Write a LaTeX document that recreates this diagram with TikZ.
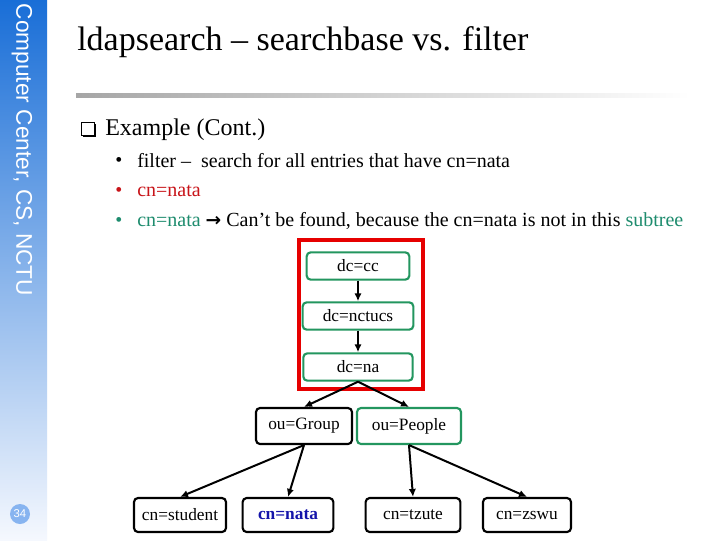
\documentclass[tikz,border=0pt]{standalone}
\usepackage{fontspec}
\setmainfont{Liberation Serif}
\newfontfamily\arialfont{Liberation Sans}
\newfontfamily\symfont{DejaVu Sans}
\usetikzlibrary{arrows.meta,shadings}
\definecolor{sideTop}{RGB}{25,110,215}
\definecolor{sideBot}{RGB}{245,248,254}
\definecolor{pagecirc}{RGB}{135,180,240}
\definecolor{boxgreen}{RGB}{35,150,95}
\definecolor{boxred}{RGB}{230,0,0}
\definecolor{txtred}{RGB}{200,20,25}
\definecolor{txtteal}{RGB}{30,140,110}
\definecolor{natablue}{RGB}{20,20,170}
\tikzset{
  entry/.style={draw, rounded corners=3pt, line width=1.6pt, inner sep=0pt,
    font=\fontsize{13}{15}\selectfont, minimum height=25.5pt},
  gentry/.style={entry, draw=boxgreen, minimum height=20.5pt},
  arr/.style={line width=1.5pt, -{Latex[length=6pt,width=5.5pt]}},
  bullettext/.style={anchor=west, inner sep=0pt, font=\fontsize{15}{17}\selectfont},
}
\begin{document}
\begin{tikzpicture}[x=0.75pt,y=-0.75pt]
\useasboundingbox (0,0) rectangle (720,540);
\fill[white] (0,0) rectangle (720,540);
% sidebar
\shade[top color=sideTop, bottom color=sideBot] (0,0) rectangle (47,540);
\node[rotate=-90, text=white, inner sep=0pt, font=\arialfont\fontsize{17}{19}\selectfont] (side) at (22,150) {Computer Center, CS, NCTU};
\node[circle, fill=pagecirc, minimum size=15pt, inner sep=0pt, text=white, font=\arialfont\fontsize{8.5}{10}\selectfont] (pg) at (20,514) {34};
% title
\node[anchor=west, inner sep=0pt, font=\fontsize{25.5}{28}\selectfont] (title) at (77,42) {ldapsearch – searchbase vs. filter};
\shade[left color=black!35, right color=white] (76,93) rectangle (690,97);
% checkbox
\fill[black] (83,124) rectangle (96,137);
\filldraw[fill=white, draw=black, line width=0.7pt] (81,122) rectangle (94,135);
\node[anchor=west, inner sep=0pt, font=\fontsize{18}{20}\selectfont] (ex) at (105,130) {Example (Cont.)};
% bullets
\node[bullettext] (b1d) at (115,162) {•};
\node[bullettext] (b1) at (137,161) {filter –\ \ search for all entries that have cn=nata};
\node[bullettext, text=txtred] (b2d) at (115,192) {•};
\node[bullettext, text=txtred] (b2) at (137,191) {cn=nata};
\node[bullettext, text=txtteal] (b3d) at (115,222) {•};
\node[bullettext] (b3) at (137,221) {\textcolor{txtteal}{cn=nata} {\symfont\bfseries\fontsize{14}{16}\selectfont →} Can’t be found, because the cn=nata is not in this \textcolor{txtteal}{subtree}};
% red frame
\draw[boxred, line width=3pt] (299,240) rectangle (423,389);
% tree nodes
\node[gentry, minimum width=77pt] (dccc) at (358,266) {dc=cc};
\node[gentry, minimum width=83pt] (dcnctucs) at (358,316) {dc=nctucs};
\node[gentry, minimum width=82pt] (dcna) at (358,367) {dc=na};
\node[entry, minimum width=72pt, minimum height=27pt] (ougroup) at (304,426) {ou=Group};
\node[entry, draw=boxgreen, minimum width=78pt, minimum height=27pt] (oupeople) at (409,426) {ou=People};
\node[entry, minimum width=69pt] (cnstudent) at (180,515) {cn=student};
\node[entry, minimum width=68pt, text=natablue, font=\bfseries\fontsize{13}{15}\selectfont] (cnnata) at (288,515) {cn=nata};
\node[entry, minimum width=71pt] (cntzute) at (413,515) {cn=tzute};
\node[entry, minimum width=66pt] (cnzswu) at (527,515) {cn=zswu};
% connectors
\draw[arr] (dccc) -- (dcnctucs);
\draw[arr] (dcnctucs) -- (dcna);
\draw[arr] (dcna.south) -- (ougroup.north);
\draw[arr] (dcna.south) -- (oupeople.north);
\draw[arr] (ougroup.south) -- (cnstudent.north);
\draw[arr] (ougroup.south) -- (cnnata.north);
\draw[arr] (oupeople.south) -- (cntzute.north);
\draw[arr] (oupeople.south) -- (cnzswu.north);
\end{tikzpicture}
\end{document}
